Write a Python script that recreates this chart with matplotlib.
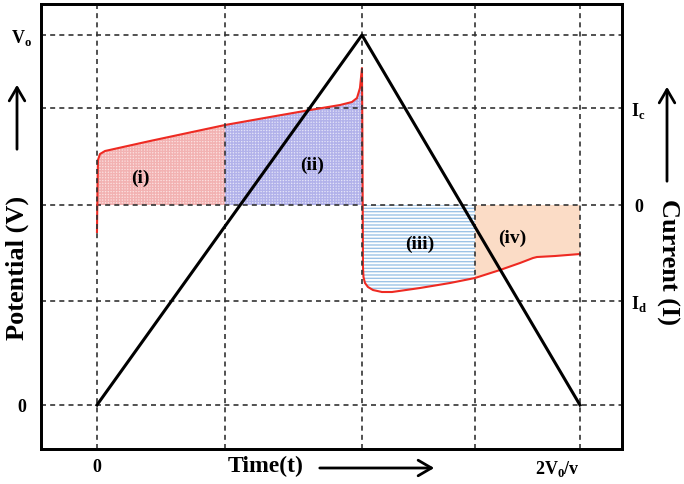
import numpy as np
import matplotlib
matplotlib.use("Agg")
import matplotlib.pyplot as plt
from matplotlib.patches import FancyArrowPatch

plt.rcParams['font.family'] = ['Liberation Serif', 'DejaVu Serif']
plt.rcParams['font.weight'] = 'bold'
plt.rcParams['mathtext.fontset'] = 'custom'
plt.rcParams['mathtext.rm'] = 'Liberation Serif:bold'
plt.rcParams['hatch.linewidth'] = 1.0

# grid positions (time and levels)
t_grid = [0.0, 1.28, 2.65, 3.78, 4.83]
v_levels = [0.0, 3.70]          # 0, V0 on potential axis
i_levels = [0.97, 0.0, -0.96]   # Ic, 0, Id on current axis

# triangular potential sweep
t_sweep = [0.0, 2.65, 4.83]
v_sweep = [0.0, 3.70, 0.0]

# current response (red curve)
t_cur = [0.0, 0.005, 0.01, 0.03, 0.08, 0.53, 1.28, 1.73, 2.13, 2.43, 2.55,
         2.60, 2.63, 2.65, 2.655, 2.66, 2.665, 2.68, 2.71, 2.76, 2.85, 2.95,
         3.23, 3.53, 3.78, 4.03, 4.23, 4.36, 4.40, 4.58, 4.83]
i_cur = [-0.27, 0.15, 0.45, 0.51, 0.54, 0.64, 0.80, 0.88, 0.95, 1.00, 1.03,
         1.07, 1.17, 1.37, 0.55, -0.62, -0.72, -0.78, -0.82, -0.85, -0.87,
         -0.87, -0.83, -0.78, -0.73, -0.65, -0.58, -0.53, -0.52, -0.51, -0.49]

fig = plt.figure(figsize=(6.84, 4.84), dpi=100)
ax2 = fig.add_axes([0.0599, 0.0723, 0.8494, 0.9194])
ax = ax2.twinx()
ax.yaxis.set_ticks_position('left')
ax2.yaxis.set_ticks_position('right')
ax.set_zorder(ax2.get_zorder() + 1)
ax.patch.set_visible(False)

ax.set_xlim(-0.56, 5.25)
ax.set_ylim(-0.44, 4.01)
ax2.set_ylim(-2.44, 2.01)

tc = np.array(t_cur)
ic = np.array(i_cur)


def seg(x0, x1):
    m = (tc > x0) & (tc < x1)
    xs = np.concatenate([[x0], tc[m], [x1]])
    ys = np.interp(xs, tc, ic)
    return xs, ys


xs, ys = seg(t_grid[0], t_grid[1])
ax2.fill_between(xs, 0, np.clip(ys, 0, None), facecolor='#fbe0e0',
                 edgecolor='#f2b2b2', hatch='++++++', linewidth=0)
xs, ys = seg(t_grid[1], t_grid[2])
ax2.fill_between(xs, 0, np.clip(ys, 0, None), facecolor='#e4e4f8',
                 edgecolor='#b2b2ea', hatch='++++++', linewidth=0)
xs, ys = seg(2.66, t_grid[3])
ax2.fill_between(xs, 0, np.clip(ys, None, 0), facecolor='white',
                 edgecolor='#9dc3e6', hatch='-----', linewidth=0)
xs, ys = seg(t_grid[3], t_grid[4])
ax2.fill_between(xs, 0, np.clip(ys, None, 0), facecolor='#fbdcc6',
                 linewidth=0)

dash = (0, (3, 2.5))
for lv in i_levels:
    ax2.axhline(lv, color='#333333', lw=1.2, ls=dash, zorder=3)
ax2.plot(t_cur, i_cur, color='#ee2a22', lw=1.5, zorder=4)

for lv in v_levels:
    ax.axhline(lv, color='#333333', lw=1.2, ls=dash, zorder=1)
for tg in t_grid:
    ax.axvline(tg, color='#333333', lw=1.2, ls=dash, zorder=1)
ax.plot(t_sweep, v_sweep, color='black', lw=2.2, zorder=5)

# region labels
for txt, x, y in [('(i)', 0.43, 0.27), ('(ii)', 2.15, 0.40),
                  ('(iii)', 3.23, -0.39), ('(iv)', 4.15, -0.33)]:
    ax2.text(x, y, txt, fontsize=14, fontweight='bold', ha='center',
             va='center', zorder=6)

# ticks
ax.set_yticks(v_levels, ['0', r'V$_\mathrm{o}$'])
ax2.set_yticks(i_levels, [r'I$_\mathrm{c}$', '0', r'I$_\mathrm{d}$'])
ax2.set_xticks([t_grid[0], t_grid[4]], ['0', r'2V$_\mathrm{0}$/v'])
ax.tick_params(axis='y', length=0, pad=14, labelsize=13)
ax2.tick_params(axis='y', length=0, pad=12, labelsize=13)
ax2.tick_params(axis='x', length=0, pad=7, labelsize=13)
for lab in ax.get_yticklabels():
    lab.set_ha('center')
for lab in ax2.get_yticklabels():
    lab.set_ha('center')
ax2.get_xticklabels()[1].set_ha('right')
ax.tick_params(axis='x', length=0, labelbottom=False)

for a in (ax, ax2):
    for s in a.spines.values():
        s.set_linewidth(2)
        s.set_color('black')

# axis titles with arrows
fig.text(17 / 684, 1 - 268 / 484, 'Potential (V)', rotation=90, fontsize=19,
         fontweight='bold', ha='center', va='center')
fig.text(668 / 684, 1 - 262 / 484, 'Current (I)', rotation=-90, fontsize=19,
         fontweight='bold', ha='center', va='center')
fig.text(266 / 684, 1 - 466 / 484, 'Time(t)', fontsize=17,
         fontweight='bold', ha='center', va='center')

style = '->,head_length=0.6,head_width=0.35'
for p0, p1 in [((17, 152), (17, 82)), ((667, 184), (667, 84)),
               ((317, 468), (437, 468))]:
    fig.add_artist(FancyArrowPatch(
        (p0[0] / 684, 1 - p0[1] / 484), (p1[0] / 684, 1 - p1[1] / 484),
        transform=fig.transFigure, arrowstyle=style, lw=2,
        mutation_scale=16, color='black'))

fig.savefig('out.png', dpi=100)
